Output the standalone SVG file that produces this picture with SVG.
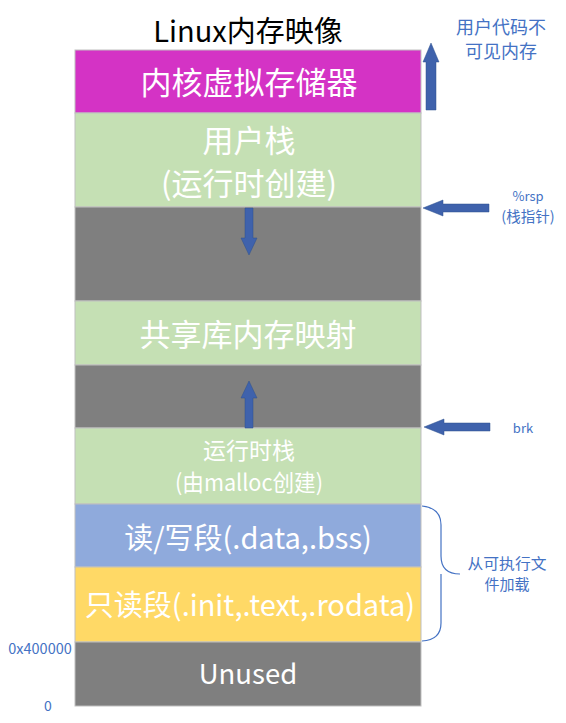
<svg xmlns="http://www.w3.org/2000/svg" width="566" height="723" viewBox="0 0 566 723">
<style>
.seg{stroke:#BFBFBF;stroke-width:1}
.w{fill:#FFFFFF;font-family:"Noto Sans CJK SC","Noto Sans",sans-serif;text-anchor:middle;dominant-baseline:central}
.b{fill:#4472C4;font-family:"Noto Sans CJK SC","Noto Sans",sans-serif;text-anchor:middle;dominant-baseline:central}
.arr{fill:#3F62AC;stroke:#2F528F;stroke-width:0.5}
</style>
<rect width="566" height="723" fill="#FFFFFF"/>
<text x="248" y="29" font-family="Noto Sans CJK SC,Noto Sans,sans-serif" font-size="29" text-anchor="middle" dominant-baseline="central" fill="#000000">Linux内存映像</text>
<g id="kernel"><rect class="seg" x="75" y="50" width="346" height="63" fill="#D433C5"/><text class="w" x="249" y="80" font-size="31">内核虚拟存储器</text></g>
<g id="userstack"><rect class="seg" x="75" y="113" width="346" height="94" fill="#C5E0B4"/><text class="w" x="249" y="138" font-size="31">用户栈</text><text class="w" x="249" y="181" font-size="31">(运行时创建)</text></g>
<g id="gap1"><rect class="seg" x="75" y="207" width="346" height="94" fill="#7F7F7F"/></g>
<g id="shared"><rect class="seg" x="75" y="301" width="346" height="64" fill="#C5E0B4"/><text class="w" x="248" y="332" font-size="31">共享库内存映射</text></g>
<g id="gap2"><rect class="seg" x="75" y="365" width="346" height="63" fill="#7F7F7F"/></g>
<g id="heap"><rect class="seg" x="75" y="428" width="346" height="76" fill="#C5E0B4"/><text class="w" x="249" y="449" font-size="23">运行时栈</text><text class="w" x="249" y="481" font-size="23" textLength="148" lengthAdjust="spacingAndGlyphs">(由malloc创建)</text></g>
<g id="data"><rect class="seg" x="75" y="504" width="346" height="63" fill="#8FAADC"/><text class="w" x="248" y="536" font-size="29">读/写段(.data,.bss)</text></g>
<g id="rodata"><rect class="seg" x="75" y="567" width="346" height="75" fill="#FFD966"/><text class="w" x="250" y="603" font-size="29">只读段(.init,.text,.rodata)</text></g>
<g id="unused"><rect class="seg" x="75" y="642" width="346" height="64" fill="#7F7F7F"/><text class="w" x="248" y="672" font-size="27.5">Unused</text></g>
<g id="connectors">
<polygon class="arr" points="426,110 426,62 423,62 431,43 439,62 436,62 436,110"/>
<polygon class="arr" points="489,204 443,204 443,200 423,208 443,216 443,212 489,212"/>
<polygon class="arr" points="490,423 444,423 444,419 424,427 444,435 444,431 490,431"/>
<polygon class="arr" points="245,208 245,238 241,238 249,255 257,238 253,238 253,208"/>
<polygon class="arr" points="245,428 245,398 241,398 249,381 257,398 253,398 253,428"/>
<path d="M422,506 Q441,508 441,525 L441,556 Q441,574 460,574 M441,574 Q441,574 441,592 L441,623 Q441,640 422,641" fill="none" stroke="#4472C4" stroke-width="1.2"/>
</g>
<g id="labels">
<text class="b" x="501" y="26" font-size="18">用户代码不</text>
<text class="b" x="501" y="50" font-size="18">可见内存</text>
<text class="b" x="528" y="195" font-size="13">%rsp</text>
<text class="b" x="528" y="215" font-size="14.5">(栈指针)</text>
<text class="b" x="523" y="427" font-size="13">brk</text>
<text class="b" x="507" y="562" font-size="15" textLength="79" lengthAdjust="spacingAndGlyphs">从可执行文</text>
<text class="b" x="507" y="583" font-size="15">件加载</text>
<text class="b" x="40" y="647" font-size="14.5">0x400000</text>
<text class="b" x="48" y="705" font-size="14">0</text>
</g>
</svg>
